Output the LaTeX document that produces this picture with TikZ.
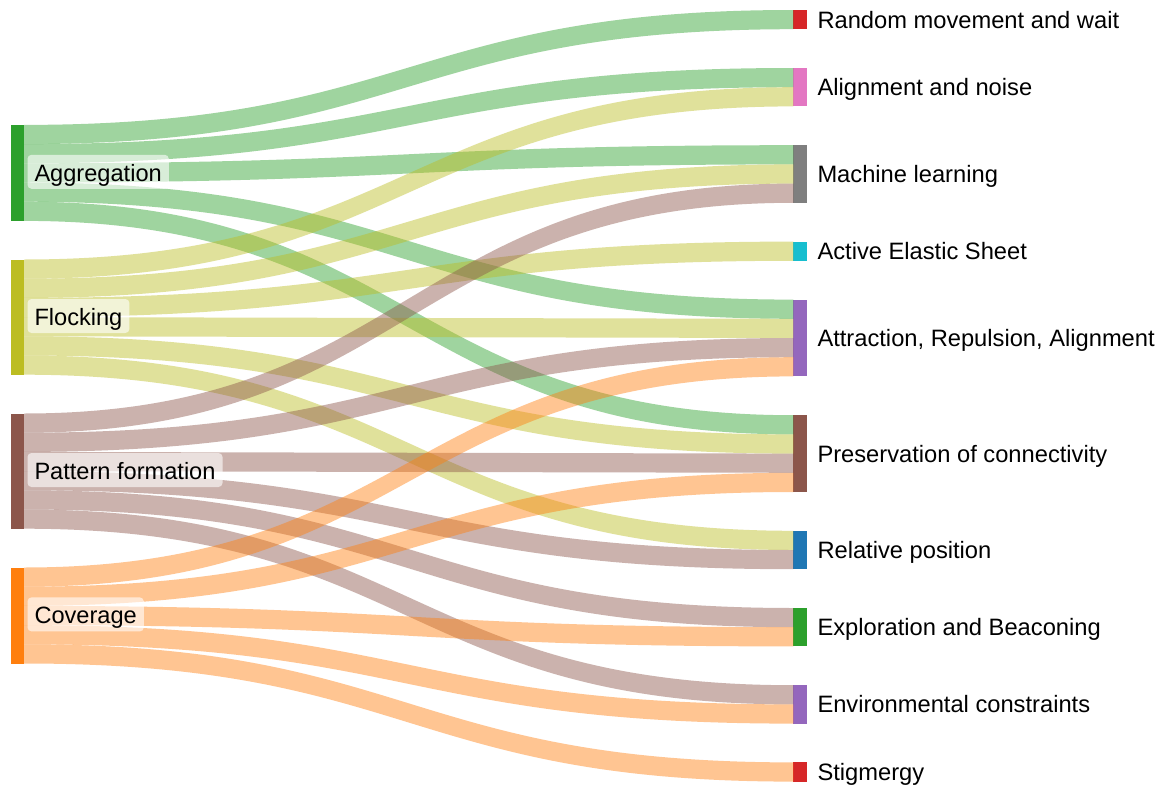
\documentclass[tikz,border=0pt]{standalone}
\usepackage{fontspec}
\setmainfont{Liberation Sans}
\usetikzlibrary{calc}
\definecolor{cAgg}{HTML}{2CA02C}
\definecolor{cFlo}{HTML}{BCBD22}
\definecolor{cPat}{HTML}{8C564B}
\definecolor{cCov}{HTML}{FF7F0E}
\definecolor{cRed}{HTML}{D62728}
\definecolor{cPink}{HTML}{E377C2}
\definecolor{cGray}{HTML}{7F7F7F}
\definecolor{cCyan}{HTML}{17BECF}
\definecolor{cPurple}{HTML}{9467BD}
\definecolor{cBlue}{HTML}{1F77B4}
\newcommand\sband[5]{%
  \coordinate (p1) at ($(#1.north east)+(0,#2*19.2)$);
  \coordinate (p2) at ($(#3.north west)+(0,#4*19.2)$);
  \coordinate (p3) at ($(p2)+(0,19.2)$);
  \coordinate (p4) at ($(p1)+(0,19.2)$);
  \fill[#5, fill opacity=0.45] (p1) .. controls +(384.6,0) and +(-384.6,0) .. (p2) -- (p3) .. controls +(-384.6,0) and +(384.6,0) .. (p4) -- cycle;}
\tikzset{
  bar/.style={rectangle, draw=none, inner sep=0pt, outer sep=0pt, minimum width=13.2pt, anchor=north west},
  rlab/.style={inner sep=0pt, anchor=base west, font=\fontsize{23.7}{28}\selectfont},
  llab/.style={rounded corners=4pt, fill=white, fill opacity=0.6, text opacity=1, inner xsep=7pt, inner ysep=6.5pt, text height=20pt, text depth=1pt, anchor=base west, font=\fontsize{23.6}{28}\selectfont}
}
\begin{document}
\begin{tikzpicture}[x=1pt,y=-1pt]
\fill[white] (0,0) rectangle (1163,787);
\useasboundingbox (0,0) rectangle (1163,787);
% source bars
\node[bar, fill=cAgg, minimum height=96pt] (agg) at (11,124.9) {};
\node[bar, fill=cFlo, minimum height=115.2pt] (flo) at (11,259.5) {};
\node[bar, fill=cPat, minimum height=115.2pt] (pat) at (11,413.5) {};
\node[bar, fill=cCov, minimum height=96pt] (cov) at (11,567.5) {};
% target bars
\node[bar, fill=cRed, minimum height=19.2pt] (rm) at (793.4,10) {};
\node[bar, fill=cPink, minimum height=38.4pt] (an) at (793.4,68) {};
\node[bar, fill=cGray, minimum height=57.6pt] (ml) at (793.4,145.2) {};
\node[bar, fill=cCyan, minimum height=19.2pt] (aes) at (793.4,241.6) {};
\node[bar, fill=cPurple, minimum height=76.8pt] (ara) at (793.4,299.6) {};
\node[bar, fill=cPat, minimum height=76.8pt] (pc) at (793.4,415.2) {};
\node[bar, fill=cBlue, minimum height=38.4pt] (rp) at (793.4,530.8) {};
\node[bar, fill=cAgg, minimum height=38.4pt] (eb) at (793.4,608) {};
\node[bar, fill=cPurple, minimum height=38.4pt] (ec) at (793.4,685.2) {};
\node[bar, fill=cRed, minimum height=19.2pt] (st) at (793.4,762.4) {};
% links
\sband{agg}{0}{rm}{0}{cAgg}
\sband{agg}{1}{an}{0}{cAgg}
\sband{agg}{2}{ml}{0}{cAgg}
\sband{agg}{3}{ara}{0}{cAgg}
\sband{agg}{4}{pc}{0}{cAgg}
\sband{flo}{0}{an}{1}{cFlo}
\sband{flo}{1}{ml}{1}{cFlo}
\sband{flo}{2}{aes}{0}{cFlo}
\sband{flo}{3}{ara}{1}{cFlo}
\sband{flo}{4}{pc}{1}{cFlo}
\sband{flo}{5}{rp}{0}{cFlo}
\sband{pat}{0}{ml}{2}{cPat}
\sband{pat}{1}{ara}{2}{cPat}
\sband{pat}{2}{pc}{2}{cPat}
\sband{pat}{3}{rp}{1}{cPat}
\sband{pat}{4}{eb}{0}{cPat}
\sband{pat}{5}{ec}{0}{cPat}
\sband{cov}{0}{ara}{3}{cCov}
\sband{cov}{1}{pc}{3}{cCov}
\sband{cov}{2}{eb}{1}{cCov}
\sband{cov}{3}{ec}{1}{cCov}
\sband{cov}{4}{st}{0}{cCov}
% left labels
\node[llab] (lagg) at ($(agg.east)+(3.1,8.4)$) {Aggregation};
\node[llab] (lflo) at ($(flo.east)+(3.1,8.4)$) {Flocking};
\node[llab] (lpat) at ($(pat.east)+(3.1,8.4)$) {Pattern formation};
\node[llab] (lcov) at ($(cov.east)+(3.1,8.4)$) {Coverage};
% right labels
\node[rlab] (lrm) at ($(rm.east)+(10.7,8.4)$) {Random movement and wait};
\node[rlab] (lan) at ($(an.east)+(10.7,8.4)$) {Alignment and noise};
\node[rlab] (lml) at ($(ml.east)+(10.7,8.4)$) {Machine learning};
\node[rlab] (laes) at ($(aes.east)+(10.7,8.4)$) {Active Elastic Sheet};
\node[rlab] (lara) at ($(ara.east)+(10.7,8.4)$) {Attraction, Repulsion, Alignment};
\node[rlab] (lpc) at ($(pc.east)+(10.7,8.4)$) {Preservation of connectivity};
\node[rlab] (lrp) at ($(rp.east)+(10.7,8.4)$) {Relative position};
\node[rlab] (leb) at ($(eb.east)+(10.7,8.4)$) {Exploration and Beaconing};
\node[rlab] (lec) at ($(ec.east)+(10.7,8.4)$) {Environmental constraints};
\node[rlab] (lst) at ($(st.east)+(10.7,8.4)$) {Stigmergy};
\end{tikzpicture}
\end{document}
